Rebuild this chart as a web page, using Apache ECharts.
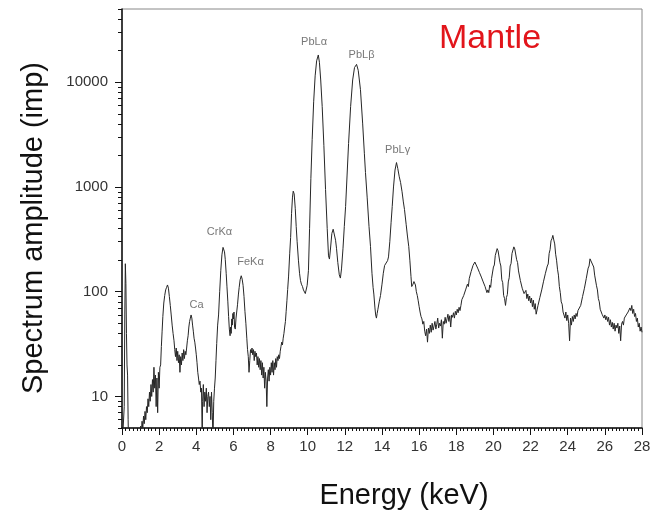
<!DOCTYPE html>
<html>
<head>
<meta charset="utf-8">
<script src="https://cdn.jsdelivr.net/npm/echarts@6/dist/echarts.min.js"></script>
<style>html,body{margin:0;padding:0;background:#fff}#c{width:670px;height:518px}</style>
</head>
<body>
<div id="c"></div>
<script>
// Energy (keV) / counts pairs
const spectrum = [
[0.00,3],[0.08,3],[0.12,8],[0.15,60],[0.18,185],[0.21,120],[0.24,40],[0.27,20],[0.30,16],[0.33,6],[0.36,3],[0.50,2],[0.70,2],[0.90,3],[0.96,4],
[1.00,5.2],[1.04,4.5],[1.08,5.8],[1.12,5],[1.16,6.5],[1.20,5.5],[1.24,7.2],[1.28,6],[1.32,8],[1.36,7],[1.40,9.5],[1.44,8],[1.48,11],[1.52,9],[1.56,13],[1.60,10],[1.64,14.5],[1.68,11],[1.72,19],[1.76,12],[1.80,16],[1.84,8],[1.88,15],[1.92,7],[1.96,17],
[2.00,12],[2.04,19],[2.08,20],[2.12,30],[2.16,42],[2.20,58],[2.25,78],[2.30,92],[2.35,104],[2.40,110],[2.45,116],[2.50,108],[2.55,90],[2.60,74],[2.65,60],[2.70,48],[2.75,40],[2.80,34],[2.84,28],[2.88,24],[2.92,29],[2.96,22],
[3.00,27],[3.04,21],[3.08,25],[3.12,17],[3.16,24],[3.20,20],[3.24,26],[3.28,22],[3.32,28],[3.36,23],[3.40,27],[3.44,25],[3.48,29],[3.52,34],[3.56,38],[3.60,46],[3.64,52],[3.68,56],[3.72,60],[3.76,56],[3.80,48],[3.84,42],[3.88,36],[3.92,33],[3.96,29],
[4.00,25],[4.04,21],[4.08,17],[4.12,15],[4.16,13],[4.20,14],[4.24,11],[4.28,12],[4.32,4],[4.34,9],[4.38,13],[4.42,8],[4.46,11],[4.50,9],[4.54,12],[4.58,7],[4.62,10],[4.66,11],[4.70,8],[4.74,10],[4.78,6],[4.82,11],[4.86,7],[4.90,4],[4.94,9],[4.98,12],
[5.02,15],[5.06,22],[5.10,32],[5.15,48],[5.20,60],[5.26,100],[5.32,160],[5.38,225],[5.44,265],[5.47,272],[5.52,240],[5.56,204],[5.61,150],[5.65,113],[5.70,80],[5.74,58],[5.78,44],[5.82,38],[5.85,46],[5.88,40],[5.91,55],[5.94,48],[5.97,62],
[6.00,55],[6.03,64],[6.06,46],[6.10,44],[6.14,56],[6.18,58],[6.22,75],[6.27,95],[6.31,110],[6.36,130],[6.42,142],[6.47,132],[6.52,115],[6.57,90],[6.62,65],[6.67,50],[6.72,36],[6.76,28],[6.80,24],[6.84,17],[6.88,22],[6.92,28],[6.96,26],
[7.00,29],[7.04,25],[7.08,28],[7.12,22],[7.16,27],[7.20,24],[7.24,26],[7.28,20],[7.32,24],[7.36,19],[7.40,23],[7.44,18],[7.48,22],[7.52,16],[7.56,21],[7.60,15],[7.64,19],[7.68,12],[7.72,17],[7.76,14],[7.80,8],[7.84,15],[7.88,18],[7.92,14],[7.96,19],
[8.00,16],[8.04,21],[8.08,17],[8.12,22],[8.16,16],[8.20,21],[8.24,18],[8.28,23],[8.32,19],[8.36,24],[8.40,22],[8.44,25],[8.48,23],[8.52,27],[8.56,30],[8.60,33],[8.64,31],[8.68,36],[8.72,40],[8.76,46],[8.80,52],[8.84,65],[8.88,82],[8.92,105],[8.97,141],
[9.03,230],[9.08,330],[9.13,560],[9.18,800],[9.22,912],[9.27,860],[9.33,620],[9.38,420],[9.43,300],[9.50,200],[9.56,150],[9.61,128],[9.66,118],[9.72,112],[9.77,104],[9.82,108],[9.87,96],[9.92,100],[9.97,115],
[10.04,160],[10.10,400],[10.17,1200],[10.24,2830],[10.32,6500],[10.40,11500],[10.48,16000],[10.57,18200],[10.63,15500],[10.70,10500],[10.78,5850],[10.87,2500],[10.96,946],
[11.05,400],[11.12,220],[11.17,205],[11.22,250],[11.30,360],[11.37,395],[11.44,380],[11.50,310],[11.55,260],[11.62,190],[11.70,145],[11.76,135],[11.82,165],[11.90,260],[11.97,420],
[12.04,651],[12.12,1300],[12.20,2600],[12.31,5850],[12.42,10500],[12.52,13800],[12.63,14800],[12.72,13000],[12.84,8490],[12.96,4000],
[13.05,2100],[13.11,1374],[13.20,800],[13.30,420],[13.38,271],[13.46,150],[13.52,110],[13.56,95],[13.62,70],[13.66,60],[13.70,56],[13.74,62],[13.78,68],[13.85,80],[13.92,92],
[14.00,118],[14.07,150],[14.14,178],[14.22,185],[14.30,198],[14.35,215],[14.42,300],[14.49,460],[14.55,650],[14.62,1000],[14.70,1450],[14.78,1710],[14.85,1500],[14.93,1250],
[15.00,1104],[15.08,900],[15.15,720],[15.21,611],[15.30,440],[15.37,340],[15.44,271],[15.50,200],[15.56,140],[15.60,112],[15.63,108],[15.67,118],[15.72,125],[15.77,120],[15.80,116],[15.85,100],[15.90,92],[15.95,82],
[16.00,72],[16.05,64],[16.10,58],[16.15,55],[16.20,49],[16.25,52],[16.30,42],[16.35,38],[16.40,44],[16.45,33],[16.50,45],[16.55,40],[16.60,48],[16.65,41],[16.70,50],[16.75,43],[16.80,47],[16.85,52],[16.90,44],[16.95,49],
[17.00,56],[17.05,45],[17.10,50],[17.15,47],[17.20,54],[17.25,36],[17.30,52],[17.35,49],[17.40,57],[17.45,50],[17.50,55],[17.55,61],[17.60,52],[17.65,59],[17.70,46],[17.75,60],[17.80,57],[17.85,63],[17.90,56],[17.95,65],
[18.00,60],[18.05,68],[18.10,63],[18.15,71],[18.20,66],[18.25,74],[18.30,84],[18.35,82],[18.40,92],[18.45,90],[18.50,104],[18.55,100],[18.60,118],[18.65,112],[18.70,134],[18.75,130],[18.80,156],[18.85,150],[18.90,178],[18.95,172],
[19.00,192],[19.05,184],[19.10,186],[19.15,168],[19.20,172],[19.25,152],[19.30,156],[19.35,138],[19.40,142],[19.45,124],[19.50,128],[19.55,112],[19.60,114],[19.65,98],[19.70,104],[19.75,98],[19.80,116],[19.85,110],[19.90,134],[19.95,140],
[20.00,172],[20.05,180],[20.10,222],[20.15,226],[20.20,258],[20.25,246],[20.30,236],[20.35,190],[20.40,176],[20.45,130],[20.50,122],[20.55,92],[20.60,86],[20.65,74],[20.70,88],[20.75,94],[20.80,124],[20.85,136],[20.90,176],[20.95,186],
[21.00,232],[21.05,238],[21.10,268],[21.15,256],[21.20,246],[21.25,202],[21.30,190],[21.35,158],[21.40,154],[21.45,128],[21.50,124],[21.55,108],[21.60,106],[21.65,96],[21.70,94],[21.75,103],[21.80,86],[21.85,95],[21.90,82],[21.95,91],
[22.00,78],[22.05,87],[22.10,72],[22.15,83],[22.20,68],[22.25,77],[22.30,61],[22.35,67],[22.40,74],[22.45,76],[22.50,88],[22.55,86],[22.60,104],[22.65,102],[22.70,126],[22.75,124],[22.80,150],[22.85,152],[22.90,176],[22.95,184],
[23.00,232],[23.05,252],[23.10,306],[23.15,320],[23.20,345],[23.25,312],[23.30,286],[23.35,228],[23.40,200],[23.45,164],[23.50,144],[23.55,112],[23.60,98],[23.65,80],[23.70,76],[23.75,64],[23.80,63],[23.85,56],[23.90,64],[23.95,53],
[24.00,60],[24.05,50],[24.10,34],[24.15,56],[24.20,48],[24.25,58],[24.30,52],[24.35,60],[24.40,55],[24.45,62],[24.50,58],[24.55,66],[24.60,67],[24.65,68],[24.70,74],[24.75,76],[24.80,90],[24.85,90],[24.90,108],[24.95,110],
[25.00,134],[25.05,136],[25.10,168],[25.15,176],[25.20,206],[25.25,204],[25.30,212],[25.35,180],[25.40,172],[25.45,144],[25.50,140],[25.55,114],[25.60,104],[25.65,86],[25.70,80],[25.75,68],[25.80,67],[25.85,61],[25.90,63],[25.95,56],
[26.00,60],[26.05,54],[26.10,58],[26.15,52],[26.20,57],[26.25,48],[26.30,54],[26.35,46],[26.40,51],[26.45,44],[26.50,50],[26.55,42],[26.60,48],[26.65,45],[26.70,50],[26.75,40],[26.80,47],[26.85,34],[26.90,49],[26.95,52],
[27.00,48],[27.05,56],[27.10,54],[27.15,60],[27.20,58],[27.25,64],[27.30,62],[27.35,70],[27.40,66],[27.45,74],[27.50,62],[27.55,68],[27.60,58],[27.65,62],[27.70,52],[27.75,56],[27.80,46],[27.85,50],[27.90,42],[27.95,46],[28.00,41]
];

// Peak annotations
const peakLabels = ['PbLα', 'PbLβ', 'PbLγ', 'CrKα', 'FeKα', 'Ca'];
const peakLabelEnergy = [10.34, 12.9, 14.84, 5.25, 6.92, 4.01];
const peakLabelLevel = [24000, 18200, 2250, 369, 193, 74];

// Axis ticks
const yTickValues = [10, 100, 1000, 10000];
const yMinorTickValues = [5, 6, 7, 8, 9, 20, 30, 40, 50, 60, 70, 80, 90, 200, 300, 400, 500, 600, 700, 800, 900,
  2000, 3000, 4000, 5000, 6000, 7000, 8000, 9000, 20000, 30000, 40000, 50000];
const xMin = 0, xMax = 28, xInterval = 2;
const yMin = 5, yMax = 50000;

const titleText = 'Mantle';
const xTitle = 'Energy (keV)';
const yTitle = 'Spectrum amplitude (imp)';

const chart = echarts.init(document.getElementById('c'), null, {renderer: 'canvas'});
const FONT = 'Liberation Sans, Arial, sans-serif';
const axisColor = '#111';

chart.setOption({
  animation: false,
  backgroundColor: '#fff',
  grid: {left: 122, right: 28, top: 9, bottom: 90, show: true, borderColor: '#888', borderWidth: 1, backgroundColor: 'transparent'},
  xAxis: {
    type: 'value', min: xMin, max: xMax, interval: xInterval,
    axisLine: {show: true, onZero: false, lineStyle: {color: axisColor, width: 1.5}},
    axisTick: {show: true, length: 7, lineStyle: {color: axisColor, width: 1}},
    minorTick: {show: true, splitNumber: 10, length: 3, lineStyle: {color: axisColor, width: 1}},
    axisLabel: {fontSize: 15, color: '#333', margin: 11, fontFamily: FONT},
    splitLine: {show: false}, minorSplitLine: {show: false}
  },
  yAxis: [
    {
      type: 'log', logBase: 10, min: yMin, max: yMax,
      axisLine: {show: true, onZero: false, lineStyle: {color: axisColor, width: 1.5}},
      axisTick: {show: true, length: 7, customValues: yTickValues, lineStyle: {color: axisColor, width: 1}},
      axisLabel: {customValues: yTickValues, fontSize: 15, color: '#333', margin: 14, fontFamily: FONT,
        formatter: v => String(Math.round(v))},
      splitLine: {show: false}
    },
    {
      type: 'log', logBase: 10, min: yMin, max: yMax, position: 'left',
      axisLine: {show: false},
      axisTick: {show: true, length: 4, customValues: yMinorTickValues, lineStyle: {color: axisColor, width: 1}},
      axisLabel: {show: false},
      splitLine: {show: false}
    }
  ],
  series: [
    {
      type: 'line', yAxisIndex: 0, data: spectrum, showSymbol: false, symbol: 'none',
      lineStyle: {color: '#262626', width: 1}, clip: true, silent: true
    },
    {
      type: 'scatter', yAxisIndex: 0, symbolSize: 1, itemStyle: {color: 'rgba(0,0,0,0)'},
      data: peakLabels.map((n, i) => [peakLabelEnergy[i], peakLabelLevel[i], n]),
      label: {show: true, position: 'inside', formatter: p => p.data[2], fontSize: 11, color: '#555', fontFamily: FONT},
      silent: true
    }
  ],
  graphic: [
    {type: 'text', left: 439, top: 22, style: {text: titleText, fill: '#e2151b', font: '34px ' + FONT}},
    {type: 'text', x: 404, y: 496, style: {text: xTitle, fill: '#111', font: '29px ' + FONT, textAlign: 'center', textVerticalAlign: 'middle'}},
    {type: 'text', x: 34, y: 228, rotation: Math.PI / 2, style: {text: yTitle, fill: '#111', font: '29px ' + FONT, textAlign: 'center', textVerticalAlign: 'middle'}}
  ]
});
</script>
</body>
</html>
